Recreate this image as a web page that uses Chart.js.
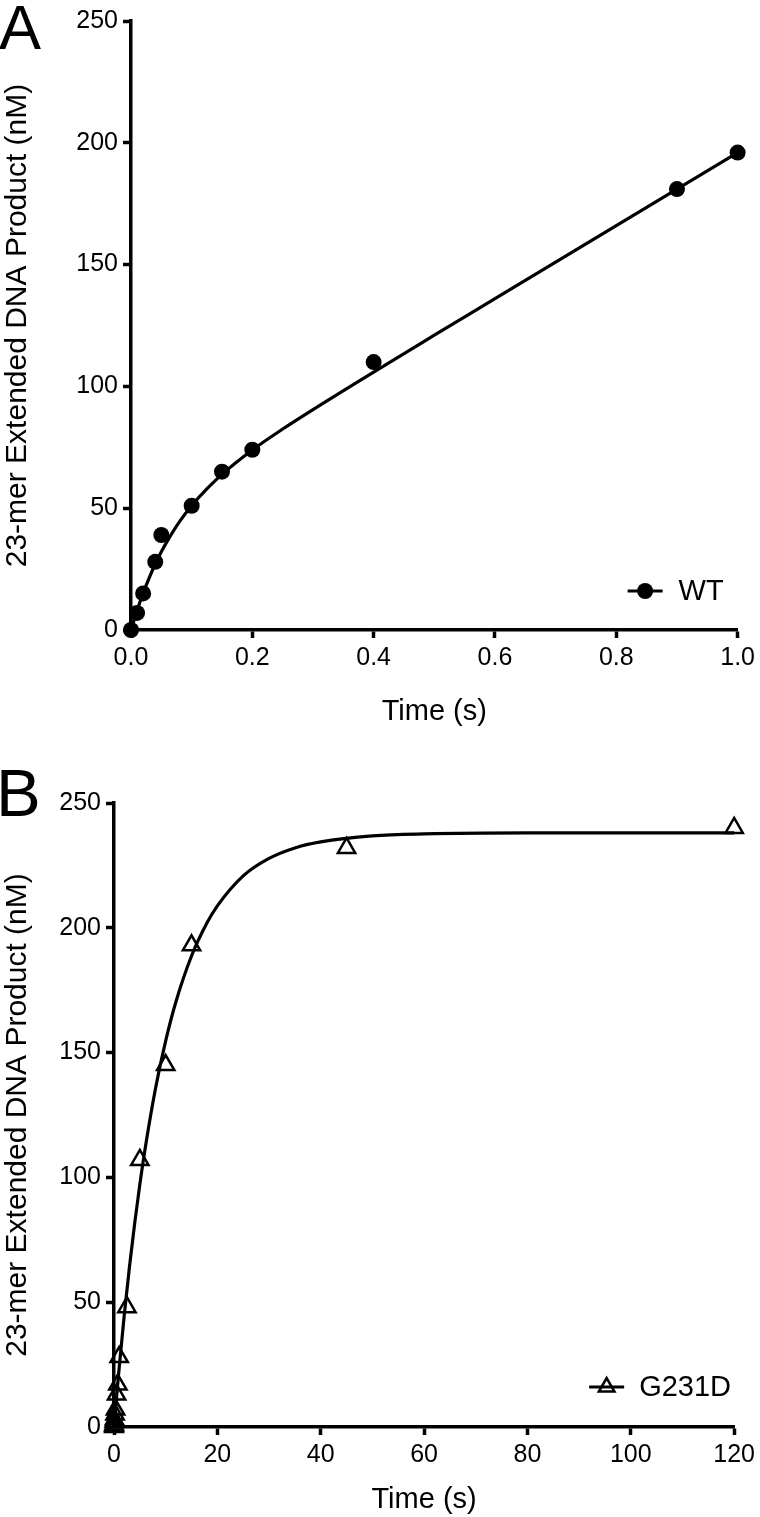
<!DOCTYPE html>
<html lang="en">
<head>
<meta charset="UTF-8" />
<title>23-mer Extended DNA Product</title>
<script src="https://cdn.jsdelivr.net/npm/chart.js"></script>
<style>
  body { margin: 0; background: #fff; width: 760px; height: 1517px; position: relative; overflow: hidden;
         font-family: "Liberation Sans", Arial, sans-serif; }
  .panel { position: absolute; left: 0; width: 760px; }
  .tag { position: absolute; line-height: 1; color: #000; }
</style>
</head>
<body>
<div class="panel" style="top:0;height:745px"><canvas id="chartA"></canvas></div>
<div class="panel" style="top:745px;height:772px"><canvas id="chartB"></canvas></div>
<div class="tag" style="left:-1px;top:-4px;font-size:63px">A</div>
<div class="tag" style="left:-4px;top:759px;font-size:67px">B</div>

<script>
// panel A, WT
const wtTime    = [0, 0.01, 0.02, 0.04, 0.05, 0.1, 0.15, 0.2, 0.4, 0.9, 1.0];
const wtProduct = [0, 7, 15, 28, 39, 51, 65, 74, 110, 181, 196];
const wtFitTime    = [0, 0.01, 0.02, 0.03, 0.04, 0.05, 0.06, 0.08, 0.1, 0.125, 0.15, 0.2, 0.25, 0.3, 0.4, 0.5, 0.6, 0.7, 0.8, 0.9, 1.0];
const wtFitProduct = [0, 8, 15.1, 21.4, 27.1, 32.1, 36.6, 44.5, 51, 57.9, 63.9, 73.9, 82.5, 90.5, 105.9, 121, 136, 151, 166, 181, 196];

// panel B, G231D
const mutTime    = [0, 0.01, 0.02, 0.05, 0.1, 0.2, 0.3, 0.5, 0.75, 1, 2.5, 5, 10, 15, 45, 120];
const mutProduct = [0, 0.5, 1, 2, 3, 5, 7, 13, 17, 28, 48, 107, 145, 193, 232, 240];
const mutFitTime    = [0, 0.5, 1, 2, 3, 4, 5, 6, 8, 10, 12, 15, 18, 20, 25, 30, 35, 40, 50, 60, 80, 100, 120];
const mutFitProduct = [0, 12, 23.7, 45.1, 64.3, 81.6, 97.2, 111.2, 135.3, 154.7, 170.5, 188.7, 202, 208.8, 220.8, 227.8, 232, 234.4, 236.8, 237.6, 238, 238, 238];

const xTicksA = [0, 0.2, 0.4, 0.6, 0.8, 1.0];
const xTicksB = [0, 20, 40, 60, 80, 100, 120];
const yTicks  = [0, 50, 100, 150, 200, 250];

const yTitle = "23-mer Extended DNA Product (nM)";
const xTitle = "Time (s)";

Chart.defaults.font.family = '"Liberation Sans", Arial, sans-serif';
Chart.defaults.color = "#000";
Chart.defaults.animation = false;

function toPoints(xs, ys) {
  return xs.map((x, i) => ({ x: x, y: ys[i] }));
}

// key drawn as a line with the marker on it, like the original figure
const keyPlugin = {
  id: "key",
  afterDatasetsDraw(chart, args, opts) {
    const { ctx, chartArea } = chart;
    const x0 = chartArea.right - opts.dx;
    const y = chartArea.bottom - opts.dy;
    ctx.save();
    ctx.strokeStyle = "#000";
    ctx.fillStyle = "#000";
    ctx.lineWidth = 3;
    ctx.beginPath();
    ctx.moveTo(x0, y);
    ctx.lineTo(x0 + 35, y);
    ctx.stroke();
    const cx = x0 + 17.5;
    if (opts.marker === "circle") {
      ctx.beginPath();
      ctx.arc(cx, y, 8, 0, Math.PI * 2);
      ctx.fill();
    } else {
      const r = 9;
      ctx.lineWidth = 2.5;
      ctx.beginPath();
      ctx.moveTo(cx, y - r);
      ctx.lineTo(cx + r * Math.sin(2 * Math.PI / 3), y - r * Math.cos(2 * Math.PI / 3));
      ctx.lineTo(cx + r * Math.sin(4 * Math.PI / 3), y - r * Math.cos(4 * Math.PI / 3));
      ctx.closePath();
      ctx.stroke();
    }
    ctx.font = '29px "Liberation Sans", Arial, sans-serif';
    ctx.textBaseline = "middle";
    ctx.textAlign = "left";
    ctx.fillText(opts.text, x0 + opts.textGap, y + 1);
    ctx.restore();
  }
};

function makeScale(min, max, ticks, fmt, title, fitSize, isY, titlePad) {
  return {
    type: "linear",
    min: min,
    max: max,
    afterBuildTicks: (s) => { s.ticks = ticks.map((v) => ({ value: v })); },
    afterFit: (s) => { if (isY) s.width = fitSize; else s.height = fitSize; },
    ticks: { font: { size: 25 }, color: "#000", padding: 5, callback: fmt, autoSkip: false, maxRotation: 0 },
    grid: { drawOnChartArea: false, drawTicks: true, tickLength: 8, tickWidth: 3.5, tickColor: "#000", color: "#000" },
    border: { display: true, color: "#000", width: 3.5 },
    title: { display: true, text: title, color: "#000", font: { size: isY ? 30 : 29 }, padding: titlePad }
  };
}

function makeChart(id, cfg) {
  return new Chart(document.getElementById(id), {
    type: "scatter",
    data: {
      datasets: [
        {
          label: cfg.label,
          data: toPoints(cfg.xs, cfg.ys),
          pointStyle: cfg.marker,
          pointRadius: cfg.radius,
          pointBorderWidth: cfg.marker === "circle" ? 0 : 2.5,
          pointBackgroundColor: cfg.marker === "circle" ? "#000" : "rgba(0,0,0,0)",
          pointBorderColor: "#000",
          showLine: false,
          clip: false
        },
        {
          label: cfg.label + " fit",
          data: toPoints(cfg.fitXs, cfg.fitYs),
          showLine: true,
          pointRadius: 0,
          borderColor: "#000",
          borderWidth: 3.2,
          cubicInterpolationMode: "monotone",
          clip: false
        }
      ]
    },
    options: {
      responsive: true,
      maintainAspectRatio: false,
      layout: { padding: cfg.padding },
      plugins: {
        legend: { display: false },
        tooltip: { enabled: false },
        key: cfg.key
      },
      scales: {
        x: makeScale(0, cfg.xMax, cfg.xTicks, cfg.xFmt, xTitle, cfg.xHeight, false, { top: 4, bottom: cfg.xTitleBottom }),
        y: makeScale(0, 250, yTicks, (v) => String(v), yTitle, cfg.yWidth, true, { top: 0, bottom: 0 })
      }
    },
    plugins: [keyPlugin]
  });
}

makeChart("chartA", {
  label: "WT",
  xs: wtTime, ys: wtProduct, fitXs: wtFitTime, fitYs: wtFitProduct,
  marker: "circle", radius: 8,
  xMax: 1, xTicks: xTicksA, xFmt: (v) => Number(v).toFixed(1),
  padding: { top: 21, right: 21, bottom: 12, left: 0 },
  xHeight: 103, yWidth: 131, xTitleBottom: 4,
  key: { text: "WT", marker: "circle", dx: 110, dy: 39, textGap: 51 }
});

makeChart("chartB", {
  label: "G231D",
  xs: mutTime, ys: mutProduct, fitXs: mutFitTime, fitYs: mutFitProduct,
  marker: "triangle", radius: 10,
  xMax: 120, xTicks: xTicksB, xFmt: (v) => String(v),
  padding: { top: 58, right: 22, bottom: 0, left: 0 },
  xHeight: 90, yWidth: 114, xTitleBottom: 0,
  key: { text: "G231D", marker: "triangle", dx: 145, dy: 40, textGap: 50 }
});
</script>
</body>
</html>
